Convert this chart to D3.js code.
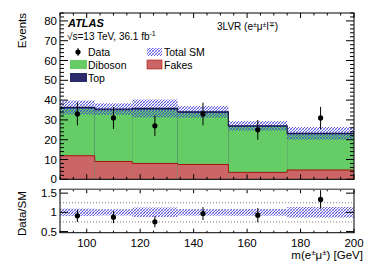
<!DOCTYPE html>
<html>
<head>
<meta charset="utf-8">
<script src="https://cdn.jsdelivr.net/npm/d3@7"></script>
<style>
  body { margin: 0; background: #fff; }
  svg { display: block; font-family: "Liberation Sans", Arial, sans-serif; }
</style>
</head>
<body>
<div id="chart"></div>
<script>
// bin edges in m(e mu) [GeV]
var binEdges = [90, 103, 117, 134, 153, 175, 200];
var fakes    = [11.9, 9.0, 8.0, 7.5, 3.5, 4.7];
var diboson  = [23.7, 25.9, 27.1, 26.0, 23.0, 18.0];
var topBkg   = [0.7, 0.6, 0.7, 0.6, 0.5, 0.5];
var totalUnc = [3.5, 2.9, 4.5, 2.9, 2.4, 3.2];
var data     = [33, 31, 27, 33, 25, 31];
var xTicks = [100, 120, 140, 160, 180, 200];
var yTicks = [0, 10, 20, 30, 40, 50, 60, 70, 80];
var rTicks = [0.5, 1, 1.5];

var W = 374, H = 268;
var svg = d3.select("#chart").append("svg").attr("width", W).attr("height", H);

var x = d3.scaleLinear().domain([90, 200]).range([60, 354]);
var y = d3.scaleLinear().domain([0, 84]).range([179.3, 13]);
var yr = d3.scaleLinear().domain([0.47, 1.6]).range([232.7, 189.3]);

// hatch pattern for total SM uncertainty
var defs = svg.append("defs");
var pat = defs.append("pattern")
  .attr("id", "hatch")
  .attr("patternUnits", "userSpaceOnUse")
  .attr("width", 3).attr("height", 3);
pat.append("path").attr("d", "M0,3 L3,0 M-1,1 L1,-1 M2,4 L4,2")
  .attr("stroke", "#3a3ad8").attr("stroke-width", 0.8);
pat.append("path").attr("d", "M0,0 L3,3 M-1,2 L1,4 M2,-1 L4,1")
  .attr("stroke", "#3a3ad8").attr("stroke-width", 0.5).attr("opacity", 0.7);

var bins = d3.range(data.length).map(function(i) {
  var tot = fakes[i] + diboson[i] + topBkg[i];
  return {
    x0: binEdges[i], x1: binEdges[i + 1], c: (binEdges[i] + binEdges[i + 1]) / 2,
    fakes: fakes[i], dib: diboson[i], top: topBkg[i], tot: tot,
    unc: totalUnc[i], data: data[i]
  };
});

// ---- main panel ----
var g = svg.append("g");

function stepPath(vals) {
  var p = "";
  bins.forEach(function(b, i) {
    p += (i == 0 ? "M" : "L") + x(b.x0) + "," + y(vals[i]) + "L" + x(b.x1) + "," + y(vals[i]);
  });
  return p;
}

// stacked fills
bins.forEach(function(b) {
  var w = x(b.x1) - x(b.x0);
  g.append("rect").attr("x", x(b.x0)).attr("width", w)
    .attr("y", y(b.tot)).attr("height", y(0) - y(b.tot)).attr("fill", "#2b2b6b");
  g.append("rect").attr("x", x(b.x0)).attr("width", w)
    .attr("y", y(b.fakes + b.dib)).attr("height", y(0) - y(b.fakes + b.dib)).attr("fill", "#66cc66");
  g.append("rect").attr("x", x(b.x0)).attr("width", w)
    .attr("y", y(b.fakes)).attr("height", y(0) - y(b.fakes)).attr("fill", "#cc6666");
});
g.append("path").attr("d", stepPath(fakes)).attr("fill", "none")
  .attr("stroke", "#aa1111").attr("stroke-width", 1);

// uncertainty band
bins.forEach(function(b) {
  g.append("rect").attr("x", x(b.x0)).attr("width", x(b.x1) - x(b.x0))
    .attr("y", y(b.tot + b.unc)).attr("height", y(b.tot - b.unc) - y(b.tot + b.unc))
    .attr("fill", "url(#hatch)");
});
g.append("path").attr("d", stepPath(bins.map(function(b) { return b.tot; })))
  .attr("fill", "none").attr("stroke", "#1a1a4a").attr("stroke-width", 1.2);

// data
bins.forEach(function(b) {
  var e = Math.sqrt(b.data);
  g.append("line").attr("x1", x(b.c)).attr("x2", x(b.c))
    .attr("y1", y(b.data - e)).attr("y2", y(b.data + e)).attr("stroke", "#000").attr("stroke-width", 1);
  g.append("circle").attr("cx", x(b.c)).attr("cy", y(b.data)).attr("r", 2.6).attr("fill", "#000");
});

// axes (ticks inside, all four sides)
function ticksY(scale, sel, majors, minors, x0, x1) {
  majors.forEach(function(v) {
    sel.append("line").attr("x1", x0).attr("x2", x0 + 8).attr("y1", scale(v)).attr("y2", scale(v)).attr("stroke", "#000");
    sel.append("line").attr("x1", x1).attr("x2", x1 - 8).attr("y1", scale(v)).attr("y2", scale(v)).attr("stroke", "#000");
  });
  minors.forEach(function(v) {
    sel.append("line").attr("x1", x0).attr("x2", x0 + 4).attr("y1", scale(v)).attr("y2", scale(v)).attr("stroke", "#000");
    sel.append("line").attr("x1", x1).attr("x2", x1 - 4).attr("y1", scale(v)).attr("y2", scale(v)).attr("stroke", "#000");
  });
}
function ticksX(sel, yb, yt, maj, mnr) {
  d3.range(90, 201, 5).forEach(function(v) {
    var big = v % 20 == 0;
    var len = big ? maj : mnr;
    sel.append("line").attr("x1", x(v)).attr("x2", x(v)).attr("y1", yb).attr("y2", yb - len).attr("stroke", "#000");
    sel.append("line").attr("x1", x(v)).attr("x2", x(v)).attr("y1", yt).attr("y2", yt + len).attr("stroke", "#000");
  });
}

var yMinor = d3.range(0, 85, 2).filter(function(v) { return v % 10 != 0; });
ticksY(y, g, yTicks, yMinor, 60, 354);
ticksX(g, y(0), y(84), 5, 2.5);
g.append("rect").attr("x", 60).attr("y", y(84)).attr("width", 294).attr("height", y(0) - y(84))
  .attr("fill", "none").attr("stroke", "#000").attr("stroke-width", 1);

g.selectAll(".ylab").data(yTicks).enter().append("text")
  .attr("x", 57).attr("y", function(d) { return y(d) + 4; })
  .attr("text-anchor", "end").attr("font-size", 11.5).text(function(d) { return d; });

svg.append("text").attr("transform", "translate(26,13) rotate(-90)")
  .attr("text-anchor", "end").attr("font-size", 11.5).text("Events");

// labels
svg.append("text").attr("x", 68).attr("y", 27).attr("font-size", 11)
  .attr("font-weight", "bold").attr("font-style", "italic").text("ATLAS");
var lum = svg.append("text").attr("x", 67).attr("y", 40).attr("font-size", 10);
lum.append("tspan").text("√s=13 TeV, 36.1 fb");
lum.append("tspan").attr("dy", -4).attr("font-size", 7).text("-1");

var reg = svg.append("text").attr("x", 217).attr("y", 30).attr("font-size", 10);
reg.append("tspan").text("3LVR (e");
reg.append("tspan").attr("dy", -3).attr("font-size", 7).text("±");
reg.append("tspan").attr("dy", 3).text("μ");
reg.append("tspan").attr("dy", -3).attr("font-size", 7).text("±");
reg.append("tspan").attr("dy", 3).text("l");
reg.append("tspan").attr("dy", -3).attr("font-size", 7).text("∓");
reg.append("tspan").attr("dy", 3).text(")");

// legend
var leg = svg.append("g").attr("font-size", 10.5);
leg.append("circle").attr("cx", 78).attr("cy", 52).attr("r", 2.6).attr("fill", "#000");
leg.append("line").attr("x1", 78).attr("x2", 78).attr("y1", 48).attr("y2", 56).attr("stroke", "#000");
leg.append("text").attr("x", 88).attr("y", 56).text("Data");
leg.append("rect").attr("x", 70).attr("y", 60).attr("width", 17).attr("height", 9).attr("fill", "#66cc66");
leg.append("text").attr("x", 88).attr("y", 69).text("Diboson");
leg.append("rect").attr("x", 70).attr("y", 73).attr("width", 17).attr("height", 9).attr("fill", "#2b2b6b");
leg.append("text").attr("x", 88).attr("y", 82).text("Top");
leg.append("rect").attr("x", 147).attr("y", 48).attr("width", 15).attr("height", 8).attr("fill", "url(#hatch)");
leg.append("text").attr("x", 164).attr("y", 56).text("Total SM");
leg.append("rect").attr("x", 147).attr("y", 60).attr("width", 15).attr("height", 9).attr("fill", "#cc6666")
  .attr("stroke", "#aa1111").attr("stroke-width", 0.6);
leg.append("text").attr("x", 164).attr("y", 69).text("Fakes");

// ---- ratio panel ----
var r = svg.append("g");
[0.75, 1, 1.25].forEach(function(v) {
  r.append("line").attr("x1", 60).attr("x2", 354).attr("y1", yr(v)).attr("y2", yr(v))
    .attr("stroke", "#444").attr("stroke-width", 0.7).attr("stroke-dasharray", "1,2");
});
bins.forEach(function(b) {
  var rel = b.unc / b.tot;
  r.append("rect").attr("x", x(b.x0)).attr("width", x(b.x1) - x(b.x0))
    .attr("y", yr(1 + rel)).attr("height", yr(1 - rel) - yr(1 + rel)).attr("fill", "url(#hatch)");
});
bins.forEach(function(b) {
  var ratio = b.data / b.tot, e = Math.sqrt(b.data) / b.tot;
  r.append("line").attr("x1", x(b.c)).attr("x2", x(b.c))
    .attr("y1", yr(ratio - e)).attr("y2", yr(ratio + e)).attr("stroke", "#000");
  r.append("circle").attr("cx", x(b.c)).attr("cy", yr(ratio)).attr("r", 2.6).attr("fill", "#000");
});
ticksY(yr, r, rTicks, [], 60, 354);
ticksX(r, yr(0.47), yr(1.6), 4, 2);
r.append("rect").attr("x", 60).attr("y", yr(1.6)).attr("width", 294).attr("height", yr(0.47) - yr(1.6))
  .attr("fill", "none").attr("stroke", "#000").attr("stroke-width", 1);
r.append("line").attr("x1", 60).attr("x2", 354).attr("y1", yr(1.6)).attr("y2", yr(1.6))
  .attr("stroke", "#777").attr("stroke-width", 1);

r.selectAll(".rlab").data(rTicks).enter().append("text")
  .attr("x", 57).attr("y", function(d) { return yr(d) + 4; })
  .attr("text-anchor", "end").attr("font-size", 11.5).text(function(d) { return d; });
r.selectAll(".xlab").data(xTicks).enter().append("text")
  .attr("x", function(d) { return x(d); }).attr("y", 247)
  .attr("text-anchor", "middle").attr("font-size", 11.5).text(function(d) { return d; });

svg.append("text").attr("transform", "translate(26,236) rotate(-90)")
  .attr("text-anchor", "start").attr("font-size", 11.5).text("Data/SM");

var xl = svg.append("text").attr("x", 363).attr("y", 259).attr("text-anchor", "end").attr("font-size", 11.5);
xl.append("tspan").text("m(e");
xl.append("tspan").attr("dy", -4).attr("font-size", 8).text("±");
xl.append("tspan").attr("dy", 4).text("μ");
xl.append("tspan").attr("dy", -4).attr("font-size", 8).text("±");
xl.append("tspan").attr("dy", 4).text(") [GeV]");
</script>
</body>
</html>
